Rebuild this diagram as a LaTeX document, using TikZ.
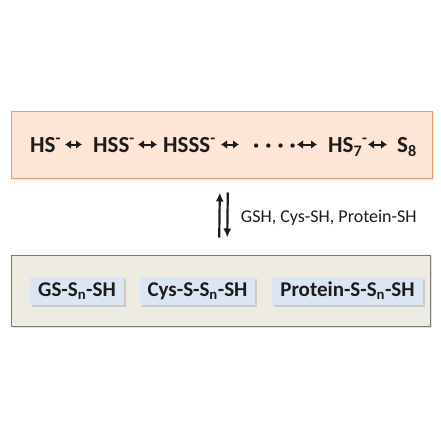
\documentclass[tikz,border=0pt]{standalone}
\usepackage{fontspec}
\setmainfont{Carlito}
\usetikzlibrary{shadows,arrows.meta}
\definecolor{peachfill}{RGB}{253,230,213}
\definecolor{peachline}{RGB}{226,160,112}
\definecolor{greyfill}{RGB}{238,236,226}
\definecolor{greyline}{RGB}{120,120,120}
\definecolor{bluefill}{RGB}{220,230,242}
\definecolor{inkdark}{RGB}{28,28,28}
\newcommand{\dotrow}{·\hspace{6pt}·\hspace{6pt}·\hspace{6pt}·}
\begin{document}
\begin{tikzpicture}[x=1pt,y=-1pt,
    every node/.style={text=inkdark},
    panel/.style={draw,line width=1pt,
      drop shadow={shadow xshift=1.8pt,shadow yshift=-1.8pt,opacity=0.22,fill=gray}},
    thiol/.style={fill=bluefill,minimum height=28pt,font=\bfseries\fontsize{21}{23}\selectfont,
      drop shadow={shadow xshift=1.6pt,shadow yshift=-1.6pt,opacity=0.3,fill=gray}},
    species/.style={anchor=base west,inner sep=0pt,font=\bfseries\fontsize{23}{25}\selectfont},
    swap/.style={line width=2pt,inkdark,{Latex[length=6pt,width=9pt]}-{Latex[length=6pt,width=9pt]}},
    flux/.style={line width=2.2pt,inkdark,-{Latex[length=9pt,width=8pt]}}]
  \useasboundingbox (0,0) rectangle (440,441);
  % polysulfide chain
  \node [panel,draw=peachline,fill=peachfill,minimum width=421pt,minimum height=67pt] (chain) at (221.5,144.5) {};
  \foreach \x/\t [count=\i] in {30/HS\textsuperscript{-},93/HSS\textsuperscript{-},163/HSSS\textsuperscript{-},
      253/\dotrow,328/HS\textsubscript{7}\textsuperscript{-},397/S\textsubscript{8}}
    \node [species] (s\i) at (\x,152.5) {\t};
  % arrow ends measured from the left edge of each species
  \foreach \u/\v/\p/\q in {s1/s2/35/-11,s2/s3/45/-6,s3/s4/58/-14,s4/s5/44/-11,s5/s6/40/-10}
    \draw [swap] ([xshift=\p pt,yshift=8pt]\u.base west) -- ([xshift=\q pt,yshift=8pt]\v.base west) ;
  % persulfides
  \node [panel,draw=greyline,fill=greyfill,minimum width=419pt,minimum height=71pt] (pers) at (220.5,290.5) {};
  \node [thiol,minimum width=94pt] (gs) at (77,291) {GS-S\textsubscript{n}-SH};
  \node [thiol,minimum width=115pt] (cys) at (197.5,291) {Cys-S-S\textsubscript{n}-SH};
  \node [thiol,minimum width=151pt] (prot) at (347.5,291) {Protein-S-S\textsubscript{n}-SH};
  % exchange arrows
  \draw [flux,shorten <=17pt,shorten >=14pt] ([xshift=-1.5pt]pers.north) -- ([xshift=-1.5pt]chain.south) ;
  \draw [flux,shorten <=14pt,shorten >=17pt] ([xshift=6.5pt]chain.south) -- ([xshift=6.5pt]pers.north)
    node [midway,anchor=west,xshift=9pt,yshift=-1pt,font=\fontsize{18}{20}\selectfont] (thiols) {GSH, Cys-SH, Protein-SH} ;
\end{tikzpicture}
\end{document}
